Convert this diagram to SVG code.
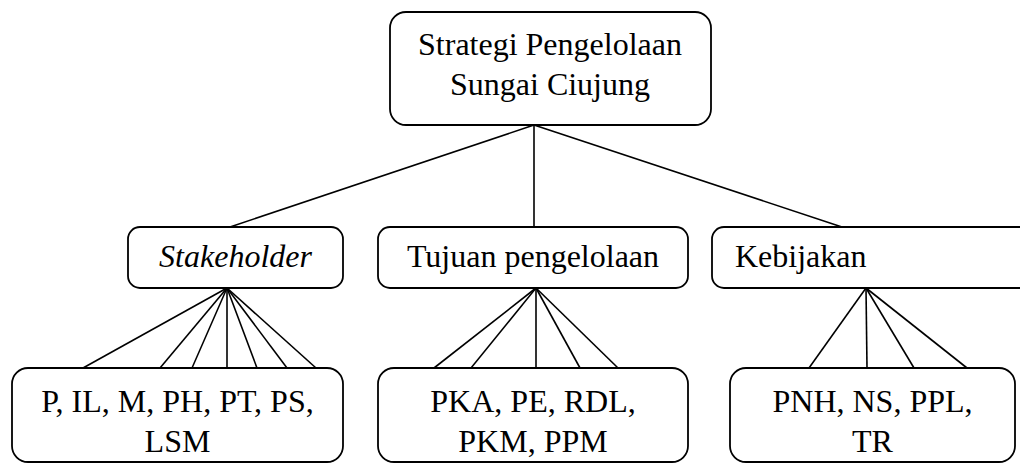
<svg xmlns="http://www.w3.org/2000/svg" width="1020" height="463" viewBox="0 0 1020 463">
<style>
.box{fill:#fff;stroke:#000;stroke-width:1.8}
.t{font-family:'Liberation Serif','Times New Roman',Times,'DejaVu Serif',serif;font-size:32px;fill:#000;text-anchor:middle}
.s{text-anchor:start}
.i{font-style:italic}
.c{stroke:#000;stroke-width:1.6;fill:none}
</style>
<rect width="1020" height="463" fill="#fff"/>
<g id="connectors">
<line class="c" x1="534" y1="125" x2="227" y2="228"/>
<line class="c" x1="534" y1="125" x2="534" y2="228"/>
<line class="c" x1="534" y1="125" x2="845" y2="228"/>
<line class="c" x1="227" y1="288" x2="83" y2="368"/>
<line class="c" x1="227" y1="288" x2="160" y2="368"/>
<line class="c" x1="227" y1="288" x2="192" y2="368"/>
<line class="c" x1="227" y1="288" x2="227" y2="368"/>
<line class="c" x1="227" y1="288" x2="257" y2="368"/>
<line class="c" x1="227" y1="288" x2="287" y2="368"/>
<line class="c" x1="227" y1="288" x2="316" y2="368"/>
<line class="c" x1="536" y1="288" x2="434" y2="368"/>
<line class="c" x1="536" y1="288" x2="471" y2="368"/>
<line class="c" x1="536" y1="288" x2="536" y2="368"/>
<line class="c" x1="536" y1="288" x2="580" y2="368"/>
<line class="c" x1="536" y1="288" x2="618" y2="368"/>
<line class="c" x1="866" y1="288" x2="809" y2="368"/>
<line class="c" x1="866" y1="288" x2="867" y2="368"/>
<line class="c" x1="866" y1="288" x2="914" y2="368"/>
<line class="c" x1="866" y1="288" x2="967" y2="368"/>
</g>
<g id="root">
<rect class="box" x="390" y="12" width="321" height="113" rx="16"/>
<text class="t" x="550" y="55">Strategi Pengelolaan</text>
<text class="t" x="550" y="95">Sungai Ciujung</text>
</g>
<g id="stakeholder">
<rect class="box" x="128" y="227" width="215" height="61" rx="12"/>
<text class="t i" x="235.5" y="267">Stakeholder</text>
</g>
<g id="tujuan">
<rect class="box" x="378" y="227" width="310" height="61" rx="12"/>
<text class="t" x="533" y="267">Tujuan pengelolaan</text>
</g>
<g id="kebijakan">
<rect class="box" x="712" y="227" width="330" height="61" rx="12"/>
<text class="t s" x="735" y="267">Kebijakan</text>
</g>
<g id="stakeholder-items">
<rect class="box" x="12" y="368" width="331" height="94" rx="16"/>
<text class="t" x="177.5" y="412">P, IL, M, PH, PT, PS,</text>
<text class="t" x="177.5" y="452">LSM</text>
</g>
<g id="tujuan-items">
<rect class="box" x="378" y="368" width="310" height="94" rx="16"/>
<text class="t" x="533" y="412">PKA, PE, RDL,</text>
<text class="t" x="533" y="452">PKM, PPM</text>
</g>
<g id="kebijakan-items">
<rect class="box" x="730" y="368" width="285" height="94" rx="16"/>
<text class="t" x="872.5" y="412">PNH, NS, PPL,</text>
<text class="t" x="872.5" y="452">TR</text>
</g>
</svg>
